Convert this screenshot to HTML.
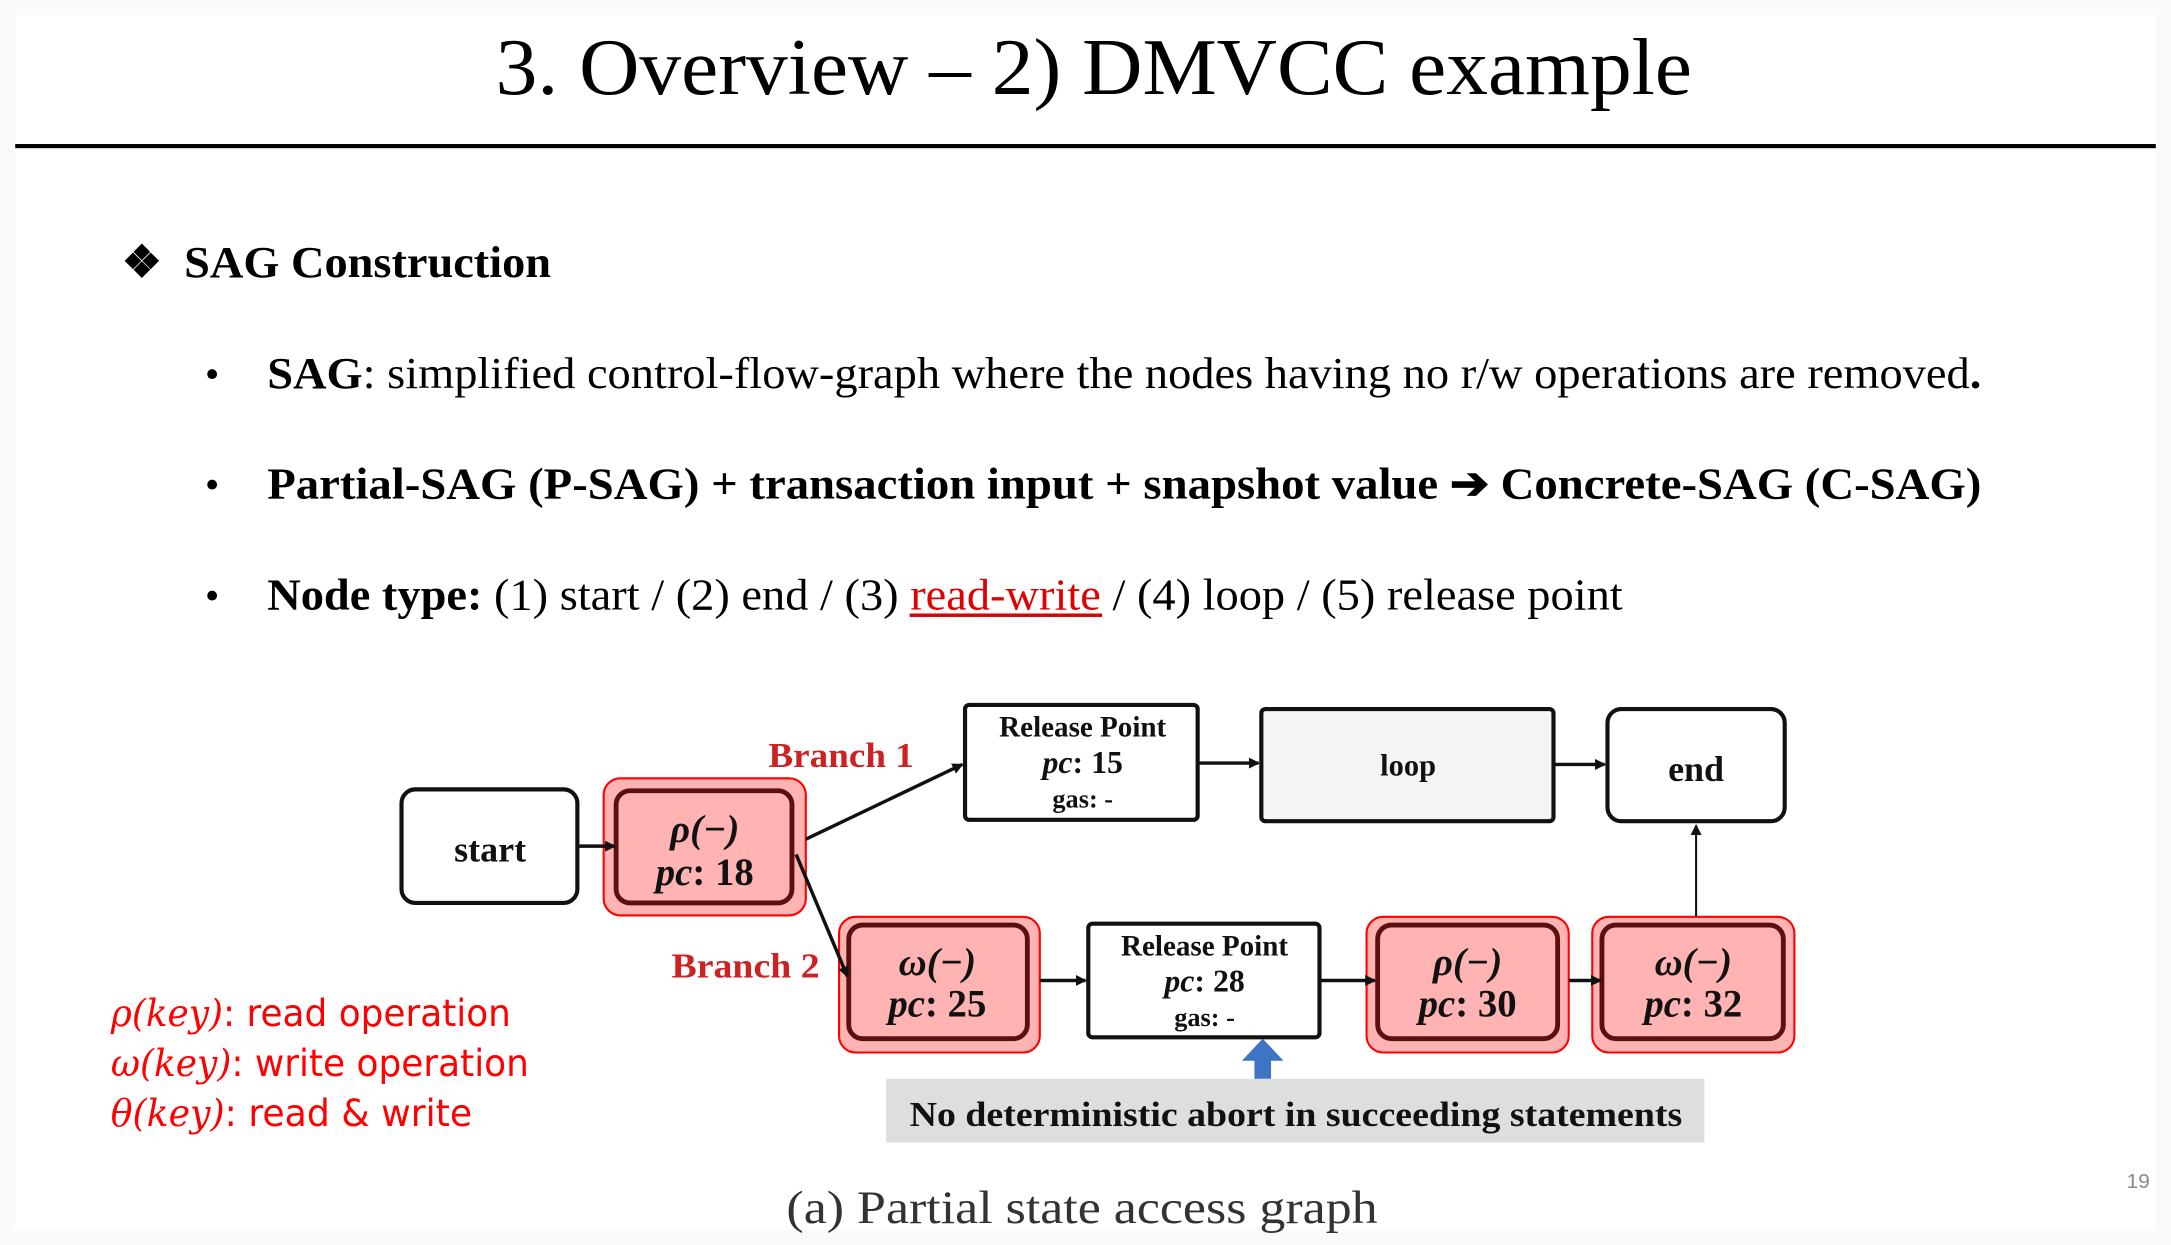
<!DOCTYPE html>
<html><head><meta charset="utf-8"><style>
html,body{margin:0;padding:0;background:#fff;width:2171px;height:1245px;overflow:hidden}
svg{display:block}
.s{font-family:"Liberation Serif",serif}
.b{font-weight:bold}
</style></head><body>
<svg width="2171" height="1245" viewBox="0 0 1568 899" preserveAspectRatio="none" xmlns="http://www.w3.org/2000/svg">
<defs><marker id="a" markerWidth="8" markerHeight="8" refX="7" refY="4" orient="auto" markerUnits="userSpaceOnUse"><path d="M0,0 L8,4 L0,8 z" fill="#111"/></marker></defs>
<rect x="0" y="0" width="1568" height="899" fill="#fafafa"/>
<rect x="11" y="11" width="1546" height="877" fill="#fff"/>
<text class="s" x="358" y="68" font-size="58" textLength="864" lengthAdjust="spacingAndGlyphs">3. Overview – 2) DMVCC example</text>
<rect x="11" y="104" width="1546" height="3" fill="#000"/>
<text class="s b" x="88" y="200" font-size="32">❖</text>
<text class="s b" x="133" y="200" font-size="32" textLength="265" lengthAdjust="spacingAndGlyphs">SAG Construction</text>
<text class="s" x="148" y="280" font-size="30">•</text>
<text class="s" x="193" y="280" font-size="32" textLength="1238" lengthAdjust="spacingAndGlyphs"><tspan class="b">SAG</tspan>: simplified control-flow-graph where the nodes having no r/w operations are removed<tspan class="b">.</tspan></text>
<text class="s" x="148" y="360" font-size="30">•</text>
<text class="s b" x="193" y="360" font-size="32" textLength="1238" lengthAdjust="spacingAndGlyphs">Partial-SAG (P-SAG) + transaction input + snapshot value ➔ Concrete-SAG (C-SAG)</text>
<text class="s" x="148" y="440" font-size="30">•</text>
<text class="s" x="193" y="440" font-size="32" textLength="979" lengthAdjust="spacingAndGlyphs"><tspan class="b">Node type:</tspan> (1) start / (2) end / (3) <tspan fill="#e00000">read-write</tspan> / (4) loop / (5) release point</text>
<rect x="657" y="443" width="139" height="2.5" fill="#e00000"/>

<!-- diagram -->
<g stroke="#111" stroke-width="3" fill="#fff">
<rect x="290" y="570" width="127" height="82" rx="10"/>
<rect x="697" y="509" width="168" height="83" rx="3"/>
<rect x="911" y="512" width="211" height="81" rx="3" fill="#f3f4f3"/>
<rect x="1161" y="512" width="128" height="81" rx="10"/>
<rect x="786" y="667" width="167" height="82" rx="3"/>
</g>
<g fill="#ffb3b3" stroke="#ff0000" stroke-width="1.5">
<rect x="436" y="562" width="146" height="99" rx="12"/>
<rect x="606" y="662" width="145" height="98" rx="12"/>
<rect x="987" y="662" width="146" height="98" rx="12"/>
<rect x="1150" y="662" width="146" height="98" rx="12"/>
</g>
<g fill="none" stroke="#5a1010" stroke-width="3.5">
<rect x="445" y="571" width="127" height="81" rx="10"/>
<rect x="613" y="668" width="129" height="82" rx="10"/>
<rect x="995" y="668" width="130" height="82" rx="10"/>
<rect x="1157" y="668" width="131" height="82" rx="10"/>
</g>
<g stroke="#111" stroke-width="2.5" marker-end="url(#a)" fill="none">
<line x1="417" y1="611" x2="444" y2="611"/>
<line x1="582" y1="606" x2="695" y2="552"/>
<line x1="575" y1="617" x2="612" y2="705"/>
<line x1="865" y1="551" x2="909" y2="551"/>
<line x1="1122" y1="552" x2="1159" y2="552"/>
<line x1="751" y1="708" x2="784" y2="708"/>
<line x1="953" y1="708" x2="993" y2="708"/>
<line x1="1133" y1="708" x2="1156" y2="708"/>
<line x1="1225" y1="662" x2="1225" y2="596" stroke-width="1.5"/>
</g>
<path d="M906,779 L906,766 L897,766 L912,750 L927,766 L918,766 L918,779 z" fill="#3d75c4"/>
<rect x="640" y="779" width="591" height="46" fill="#dcdfdd"/>
<g class="s b" fill="#111" text-anchor="middle">
<text x="354" y="622" font-size="26">start</text>
<text x="509" y="608" font-size="28" font-style="italic">ρ(−)</text>
<text x="509" y="639" font-size="28"><tspan font-style="italic">pc</tspan>: 18</text>
<text x="782" y="532" font-size="21">Release Point</text>
<text x="782" y="558" font-size="23"><tspan font-style="italic">pc</tspan>: 15</text>
<text x="782" y="583" font-size="19">gas: -</text>
<text x="1017" y="560" font-size="22">loop</text>
<text x="1225" y="564" font-size="26">end</text>
<text x="677" y="704" font-size="28" font-style="italic">ω(−)</text>
<text x="677" y="734" font-size="28"><tspan font-style="italic">pc</tspan>: 25</text>
<text x="870" y="690" font-size="21">Release Point</text>
<text x="870" y="716" font-size="23"><tspan font-style="italic">pc</tspan>: 28</text>
<text x="870" y="741" font-size="19">gas: -</text>
<text x="1060" y="704" font-size="28" font-style="italic">ρ(−)</text>
<text x="1060" y="734" font-size="28"><tspan font-style="italic">pc</tspan>: 30</text>
<text x="1223" y="704" font-size="28" font-style="italic">ω(−)</text>
<text x="1223" y="734" font-size="28"><tspan font-style="italic">pc</tspan>: 32</text>
<text x="936" y="813" font-size="25" textLength="558" lengthAdjust="spacingAndGlyphs">No deterministic abort in succeeding statements</text>
</g>
<g class="s b" fill="#cc2222" font-size="25">
<text x="555" y="554" textLength="105" lengthAdjust="spacingAndGlyphs">Branch 1</text>
<text x="485" y="706" textLength="107" lengthAdjust="spacingAndGlyphs">Branch 2</text>
</g>
<g fill="#ff0000" font-size="27" font-family="'DejaVu Sans','Liberation Sans',sans-serif">
<text x="80" y="741" textLength="289" lengthAdjust="spacingAndGlyphs"><tspan font-style="italic" font-family="'DejaVu Serif',serif">ρ(key)</tspan>: read operation</text>
<text x="80" y="777" textLength="302" lengthAdjust="spacingAndGlyphs"><tspan font-style="italic" font-family="'DejaVu Serif',serif">ω(key)</tspan>: write operation</text>
<text x="80" y="813" textLength="261" lengthAdjust="spacingAndGlyphs"><tspan font-style="italic" font-family="'DejaVu Serif',serif">θ(key)</tspan>: read &amp; write</text>
</g>
<text class="s" x="568" y="883" font-size="34" fill="#333" textLength="427" lengthAdjust="spacingAndGlyphs">(a) Partial state access graph</text>
<text font-family="'Liberation Sans',sans-serif" x="1536" y="858" font-size="15" fill="#888">19</text>
</svg>
</body></html>
